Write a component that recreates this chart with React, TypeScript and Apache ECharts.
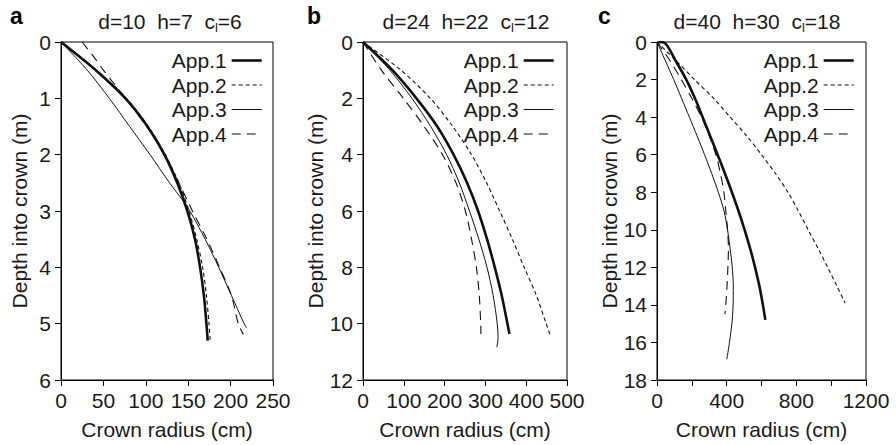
import React, { useEffect, useRef } from "react";
import * as echarts from "echarts";

const seriesNames = ["App.1", "App.2", "App.3", "App.4"];
const panelLetters = ["a", "b", "c"];
const panelTitles = [
  ["d=10  h=7  c", "l", "=6"],
  ["d=24  h=22  c", "l", "=12"],
  ["d=40  h=30  c", "l", "=18"],
];
const xMax = [250, 500, 1200];
const xInterval = [50, 100, 200];
const xLabelEvery = [50, 100, 400];
const yMax = [6, 12, 18];
const yInterval = [1, 2, 2];

// Panel a (d=10) : depth (m) and crown radius (cm)
const aDepth12 = [0, 0.5, 1, 1.5, 2, 2.5, 3, 3.5, 4, 4.5, 5, 5.3];
const aApp1 = [0, 41, 76, 102, 122, 137, 149, 158, 164, 168.5, 171.5, 173];
const aApp2 = [0, 42, 77, 103, 123, 139, 151, 160, 167, 171.5, 174.5, 176];
const aDepth3 = [0, 0.5, 1, 1.5, 2, 2.5, 2.8, 3, 3.5, 4, 4.5, 5, 5.08];
const aApp3 = [0, 31, 57, 81, 105, 128, 143, 152, 170, 186, 201, 216, 219];
const aDepth4 = [0, 0.25, 0.5, 0.75, 1, 1.5, 2, 2.5, 3, 3.5, 4, 4.5, 5, 5.19];
const aApp4 = [25, 38, 50, 63, 76, 101, 122, 139, 155, 172, 187, 201, 209, 215];

// Panel b (d=24)
const bDepth = [0, 1, 2, 3, 4, 5, 6, 7, 8, 9, 10, 10.37];
const bApp1 = [0, 72, 131, 182, 222, 255, 282, 304, 323, 340, 354, 359];
const bApp2 = [0, 93, 165, 220, 266, 303, 335, 366, 395, 425, 449, 458];
const bDepth3 = [0, 1, 2, 3, 4, 5, 6, 7, 8, 9, 10, 10.5, 10.84];
const bApp3 = [0, 66, 120, 166, 205, 236, 261, 284, 304, 319, 329, 331, 328];
const bApp4 = [0, 45, 99, 150, 195, 228, 251, 266, 278, 285, 288.5, 289];

// Panel c (d=40)
const cDepth1 = [0, 0.05, 1, 2, 3, 4, 5, 6, 7, 8, 9, 10, 11, 12, 13, 14, 14.8];
const cApp1 = [8, 45, 107, 168, 218, 262, 305, 348, 390, 430, 468, 503, 535, 563, 588, 608, 622];
const cDepth2 = [0, 1, 2, 3, 4, 5, 6, 7, 8, 9, 10, 11, 12, 13, 13.9];
const cApp2 = [0, 110, 215, 325, 420, 515, 600, 680, 752, 812, 868, 925, 980, 1033, 1080];
const cDepth3 = [0, 1, 2, 3, 4, 5, 6, 7, 8, 9, 10, 11, 12, 13, 14, 15, 16, 16.9];
const cApp3 = [0, 48, 96, 141, 186, 230, 273, 314, 352, 385, 405, 420, 432, 438, 437, 430, 416, 401];
const cDepth4 = [0, 1, 2, 3, 4, 5, 6, 7, 8, 9, 10, 11, 12, 13, 14, 14.5];
const cApp4 = [0, 75, 140, 200, 255, 300, 338, 364, 384, 395, 405, 410, 407, 402, 395, 390];

const panelData = [
  [
    [aApp1, aDepth12],
    [aApp2, aDepth12],
    [aApp3, aDepth3],
    [aApp4, aDepth4],
  ],
  [
    [bApp1, bDepth],
    [bApp2, bDepth],
    [bApp3, bDepth3],
    [bApp4, bDepth],
  ],
  [
    [cApp1, cDepth1],
    [cApp2, cDepth2],
    [cApp3, cDepth3],
    [cApp4, cDepth4],
  ],
];

const FONT = "'Liberation Sans', Arial, Helvetica, sans-serif";
const TXT = "#1a1a1a";
const LINE = "#111";

const lineStyles: any[] = [
  { width: 2.6, type: "solid" },
  { width: 1.1, type: [4, 3] },
  { width: 1, type: "solid" },
  { width: 1.1, type: [9, 6] },
];

const grids = [
  { left: 61, top: 42, width: 212, height: 339 },
  { left: 363, top: 42, width: 204, height: 339 },
  { left: 657, top: 42, width: 209, height: 339 },
];
const yNameGap = [31, 37, 36];
const legendRight = [633, 341, 41];
const titleX = [170, 466, 757];
const letterX = [10, 307, 598];

export default function App() {
  const ref = useRef<HTMLDivElement>(null);
  useEffect(() => {
    if (!ref.current) return;
    const chart = echarts.init(ref.current, undefined, { renderer: "svg" });

    const xAxes = grids.map((_, i) => ({
      type: "value",
      gridIndex: i,
      position: "bottom",
      min: 0,
      max: xMax[i],
      interval: xInterval[i],
      name: "Crown radius (cm)",
      nameLocation: "middle",
      nameGap: 39,
      nameTextStyle: { fontSize: 21, color: TXT, fontFamily: FONT },
      axisLine: { show: true, onZero: false, lineStyle: { color: "#000", width: 1 } },
      axisTick: { show: true, inside: false, length: 6, lineStyle: { color: "#000", width: 1 } },
      axisLabel: {
        show: true,
        fontSize: 21,
        color: TXT,
        fontFamily: FONT,
        margin: 10,
        showMinLabel: true,
        showMaxLabel: true,
        formatter: (v: number) => (v % xLabelEvery[i] === 0 ? String(v) : ""),
      },
      splitLine: { show: false },
    }));

    const yAxes = grids.map((_, i) => ({
      type: "value",
      gridIndex: i,
      position: "left",
      inverse: true,
      min: 0,
      max: yMax[i],
      interval: yInterval[i],
      name: "Depth into crown (m)",
      nameLocation: "middle",
      nameGap: yNameGap[i],
      nameTextStyle: { fontSize: 21, color: TXT, fontFamily: FONT },
      axisLine: { show: true, onZero: false, lineStyle: { color: "#000", width: 1 } },
      axisTick: { show: true, inside: false, length: 6, lineStyle: { color: "#000", width: 1 } },
      axisLabel: {
        show: true,
        fontSize: 21,
        color: TXT,
        fontFamily: FONT,
        margin: 10,
        showMinLabel: true,
        showMaxLabel: true,
      },
      splitLine: { show: false },
    }));

    const series: any[] = [];
    panelData.forEach((panel, pi) => {
      panel.forEach(([radii, depths], si) => {
        series.push({
          type: "line",
          name: seriesNames[si],
          xAxisIndex: pi,
          yAxisIndex: pi,
          symbol: "none",
          showSymbol: false,
          smooth: 0.3,
          lineStyle: { color: LINE, ...lineStyles[si] },
          itemStyle: { color: LINE },
          data: (radii as number[]).map((r, k) => [r, (depths as number[])[k]]),
          z: 3,
        });
      });
    });

    const legends = grids.map((_, i) => ({
      orient: "vertical",
      right: legendRight[i],
      top: 50,
      padding: 0,
      align: "right",
      itemWidth: 30,
      itemHeight: 14,
      itemGap: 3.5,
      selectedMode: false,
      textStyle: { fontSize: 21, color: TXT, fontFamily: FONT, lineHeight: 21 },
      lineStyle: { width: "inherit", type: "inherit", color: LINE },
      data: seriesNames.map((n, k) => ({
        name: n,
        lineStyle: { color: LINE, ...lineStyles[k] },
        itemStyle: { color: LINE, opacity: 0 },
      })),
    }));

    const graphics: any[] = [];
    panelLetters.forEach((l, i) => {
      graphics.push({
        type: "text",
        x: letterX[i],
        y: 16,
        style: {
          text: l,
          font: `bold 23px ${FONT}`,
          fill: "#000",
          align: "left",
          verticalAlign: "middle",
        },
      });
      const t = panelTitles[i];
      graphics.push({
        type: "text",
        x: titleX[i],
        y: 21,
        style: {
          text: `{n|${t[0]}}{s|${t[1]}}{n|${t[2]}}`,
          align: "center",
          verticalAlign: "middle",
          fill: TXT,
          rich: {
            n: { fontSize: 21, fontFamily: FONT, fill: TXT, color: TXT },
            s: { fontSize: 13, fontFamily: FONT, fill: TXT, color: TXT, padding: [12, 0, 0, 0] },
          },
        },
      });
    });

    chart.setOption({
      animation: false,
      backgroundColor: "#fff",
      grid: grids.map((g) => ({ ...g, show: true, borderColor: "#000", borderWidth: 1, backgroundColor: "transparent" })),
      xAxis: xAxes,
      yAxis: yAxes,
      legend: legends,
      series,
      graphic: graphics,
    });
    return () => chart.dispose();
  }, []);
  return (
    <div
      ref={ref}
      style={{ position: "fixed", left: 0, top: 0, width: 896, height: 445, background: "#fff" }}
    />
  );
}
